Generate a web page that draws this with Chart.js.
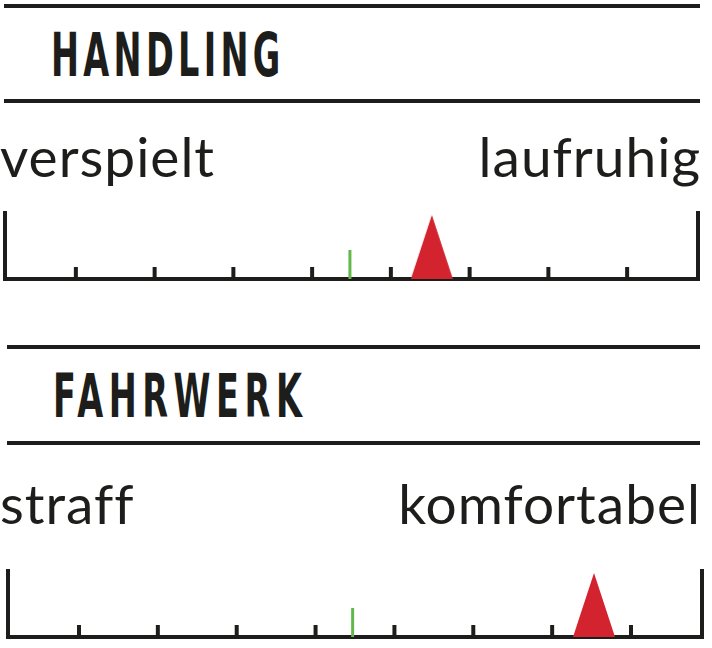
<!DOCTYPE html>
<html>
<head>
<meta charset="utf-8">
<script src="https://cdn.jsdelivr.net/npm/chart.js@4.4.1/dist/chart.umd.min.js"></script>
<style>
  html, body { margin: 0; padding: 0; background: #fff; }
  body { width: 712px; height: 648px; position: relative; overflow: hidden; color: #1d1d1b; }
  .rule { position: absolute; height: 4px; background: #1d1d1b; }
  .title {
    position: absolute; font-family: "Liberation Sans Narrow", "DejaVu Sans Condensed", sans-serif;
    font-weight: bold; font-size: 60px; line-height: 60px; white-space: nowrap;
    transform-origin: 0 0; transform: scaleX(0.62);
  }
  .label {
    position: absolute; font-family: Lato, "Open Sans", sans-serif; font-size: 55px;
    line-height: 55px; white-space: nowrap; letter-spacing: 1px;
  }
  .chartbox { position: absolute; left: 0; width: 712px; }
</style>
</head>
<body>

<div class="rule" style="left:4px; width:696px; top:4px;"></div>
<div class="title" id="t0" style="left:51px; top:25px; letter-spacing:7px;"></div>
<div class="rule" style="left:4px; width:696px; top:99px;"></div>
<div class="label" id="l0" style="left:0px; top:129px;"></div>
<div class="label" id="r0" style="right:11px; top:129px;"></div>
<div class="chartbox" style="top:200px; height:90px;"><canvas id="c0" width="712" height="90"></canvas></div>

<div class="rule" style="left:7px; width:693px; top:345px;"></div>
<div class="title" id="t1" style="left:53px; top:366px; letter-spacing:9px;"></div>
<div class="rule" style="left:7px; width:693px; top:441px;"></div>
<div class="label" id="l1" style="left:0px; top:476px;"></div>
<div class="label" id="r1" style="right:11px; top:476px;"></div>
<div class="chartbox" style="top:560px; height:88px;"><canvas id="c1" width="712" height="88"></canvas></div>

<script>
// Werte
const categories = ["HANDLING", "FAHRWERK"];
const leftLabels = ["verspielt", "straff"];
const rightLabels = ["laufruhig", "komfortabel"];
const tickValues = [1, 2, 3, 4, 5, 6, 7, 8];
const scaleMin = 0.1;
const scaleMax = 8.9;
const greenValues = [4.48, 4.47];
const redValues = [5.52, 7.53];

const dark = "#1d1d1b";
const green = "#62b84b";
const red = "#d2232e";

// spitzes Dreieck als Punkt-Bild
function makeTriangle() {
  const c = document.createElement("canvas");
  c.width = 42;
  c.height = 64;
  const g = c.getContext("2d");
  g.fillStyle = red;
  g.beginPath();
  g.moveTo(0, 64);
  g.lineTo(21, 0);
  g.lineTo(42, 64);
  g.closePath();
  g.fill();
  return c;
}
const triangle = makeTriangle();

const boxes = [
  { pad: { left: 5, right: 14, top: 11, bottom: 11 } },
  { pad: { left: 8, right: 10, top: 9, bottom: 11 } }
];

categories.forEach((name, i) => {
  document.getElementById("t" + i).textContent = name;
  document.getElementById("l" + i).textContent = leftLabels[i];
  document.getElementById("r" + i).textContent = rightLabels[i];

  new Chart(document.getElementById("c" + i), {
    type: "scatter",
    data: {
      datasets: [
        {
          // Zeiger
          data: [{ x: redValues[i], y: 32 }],
          pointStyle: triangle,
          pointRadius: 21,
          clip: false
        },
        {
          // Referenz
          data: [{ x: greenValues[i], y: 14.5 }],
          pointStyle: "line",
          rotation: 90,
          pointRadius: 14.5,
          pointBorderWidth: 3,
          pointBorderColor: green,
          clip: false
        },
        {
          data: tickValues.map(v => ({ x: v, y: 6 })),
          pointStyle: "line",
          rotation: 90,
          pointRadius: 6,
          pointBorderWidth: 4,
          pointBorderColor: dark,
          clip: false
        },
        {
          data: [
            { x: scaleMin, y: 68 },
            { x: scaleMin, y: 0 },
            { x: scaleMax, y: 0 },
            { x: scaleMax, y: 68 }
          ],
          showLine: true,
          borderColor: dark,
          borderWidth: 4,
          borderJoinStyle: "miter",
          pointRadius: 0,
          clip: false
        }
      ]
    },
    options: {
      responsive: false,
      animation: false,
      events: [],
      layout: { padding: boxes[i].pad, autoPadding: false },
      plugins: { legend: { display: false }, tooltip: { enabled: false } },
      scales: {
        x: { type: "linear", min: scaleMin, max: scaleMax, display: false },
        y: { type: "linear", min: 0, max: 68, display: false }
      }
    }
  });
});
</script>
</body>
</html>
